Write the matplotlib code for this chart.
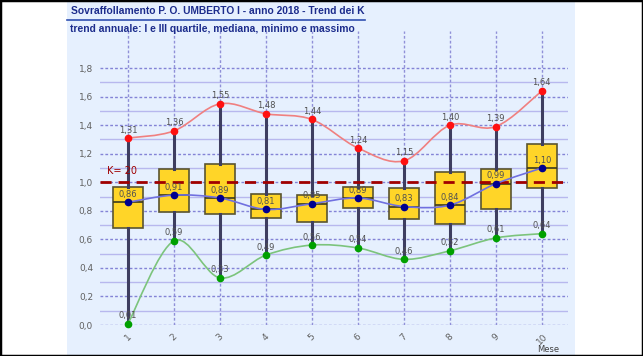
import numpy as np
import matplotlib
matplotlib.use("Agg")
import matplotlib.pyplot as plt
from matplotlib.path import Path
from matplotlib.patches import PathPatch, Rectangle
from matplotlib.lines import Line2D

# data
mesi = np.arange(1, 11)
massimo = [1.31, 1.36, 1.55, 1.48, 1.44, 1.24, 1.15, 1.40, 1.39, 1.64]
mediana = [0.86, 0.91, 0.89, 0.81, 0.85, 0.89, 0.83, 0.84, 0.99, 1.10]
minimo = [0.01, 0.59, 0.33, 0.49, 0.56, 0.54, 0.46, 0.52, 0.61, 0.64]
q1 = [0.68, 0.79, 0.78, 0.75, 0.72, 0.82, 0.74, 0.71, 0.81, 0.96]
q3 = [0.97, 1.09, 1.13, 0.92, 0.91, 0.97, 0.96, 1.07, 1.09, 1.27]
k_soglia = 1.0


def smooth_path(x, y):
    # catmull-rom through the points, handed to matplotlib as bezier segments
    p = np.column_stack([x, y]).astype(float)
    p = np.vstack([p[0], p, p[-1]])
    verts = [p[1]]
    codes = [Path.MOVETO]
    for i in range(1, len(p) - 2):
        c1 = p[i] + (p[i + 1] - p[i - 1]) / 6.0
        c2 = p[i + 1] - (p[i + 2] - p[i]) / 6.0
        verts += [c1, c2, p[i + 1]]
        codes += [Path.CURVE4] * 3
    return Path(verts, codes)


fig = plt.figure(figsize=(6.43, 3.56), dpi=100)
fig.patches.append(Rectangle((67 / 643, 0), (575 - 67) / 643, 1, transform=fig.transFigure,
                             facecolor="#E6F0FE", edgecolor="none", zorder=-10))
fig.patches.append(Rectangle((0, 0), 1, 1, transform=fig.transFigure, fill=False,
                             edgecolor="black", lw=2.5, zorder=10))

ax = fig.add_axes([100 / 643, 31 / 356, 468 / 643, (325 - 31) / 356])
ax.set_facecolor("none")
ax.set_xlim(0.39, 10.57)
ax.set_ylim(0, 2.06)
for s in ax.spines.values():
    s.set_visible(False)

# grid
for v in np.arange(0, 1.81, 0.2):
    ax.axhline(v, color="#8484d6", lw=1, ls=(0, (2, 1.5)), zorder=1)
for v in np.arange(0.1, 1.8, 0.2):
    ax.axhline(v, color="#b8b8ee", lw=1, zorder=1)
for m in mesi:
    ax.axvline(m, color="#9090d8", lw=1, ls=(0, (2, 1.5)), zorder=1)

# boxes
stats = [dict(med=md, q1=a, q3=b, whislo=lo, whishi=hi, fliers=[])
         for md, a, b, lo, hi in zip(mediana, q1, q3, minimo, massimo)]
ax.bxp(stats, positions=mesi, widths=0.66, patch_artist=True, showcaps=False,
       showfliers=False, manage_ticks=False,
       boxprops=dict(facecolor="#FFD528", edgecolor="#5a5530", lw=1.2),
       whiskerprops=dict(color="#3e3e60", lw=2.2),
       medianprops=dict(color="#3a3a20", lw=1.2), zorder=3)

# soglia K
ax.axhline(k_soglia, color="#a00000", lw=2, ls=(0, (4, 2.5)), zorder=4)
ax.text(0.55, k_soglia + 0.045, "K= 20", color="#a00000", fontsize=7, va="bottom", zorder=6)

# trend lines
serie = [(massimo, "#f08080", "#ff1010"),
         (mediana, "#7070e0", "#000090"),
         (minimo, "#7cc47c", "#00a000")]
for vals, lc, mc in serie:
    ax.add_patch(PathPatch(smooth_path(mesi, vals), facecolor="none", edgecolor=lc, lw=1.2, zorder=5))
    ax.plot(mesi, vals, "o", color=mc, ms=4.5, zorder=6, clip_on=False)
    for x, v in zip(mesi, vals):
        ax.annotate(f"{v:.2f}".replace(".", ","), (x, v), xytext=(0, 2.5), textcoords="offset points",
                    ha="center", va="bottom", fontsize=6, color="#505050", zorder=7)

ax.set_yticks(np.arange(0, 1.81, 0.2))
ax.set_yticklabels([f"{v:.1f}".replace(".", ",") for v in np.arange(0, 1.81, 0.2)])
ax.set_xticks(mesi)
ax.set_xticklabels([str(m) for m in mesi], rotation=45)
ax.tick_params(length=0, labelsize=6.5, labelcolor="#606060")
ax.tick_params(axis="y", pad=5)
ax.tick_params(axis="x", pad=5)

fig.text(548 / 643, 1 - 349 / 356, "Mese", fontsize=6, color="#404040", ha="center", va="center")

fig.text(71 / 643, 1 - 11 / 356, "Sovraffollamento P. O. UMBERTO I - anno 2018 - Trend dei K",
         fontsize=7.4, fontweight="bold", color="#1c2c8c", va="center", family="Liberation Sans")
fig.lines.append(Line2D([67 / 643, 365 / 643], [1 - 19.5 / 356] * 2, transform=fig.transFigure,
                        color="#3050b0", lw=1.2))
fig.text(70 / 643, 1 - 29 / 356, "trend annuale: I e III quartile, mediana, minimo e massimo",
         fontsize=7.4, fontweight="bold", color="#1c2c8c", va="center", family="Liberation Sans")

fig.savefig("out.png", dpi=100)
